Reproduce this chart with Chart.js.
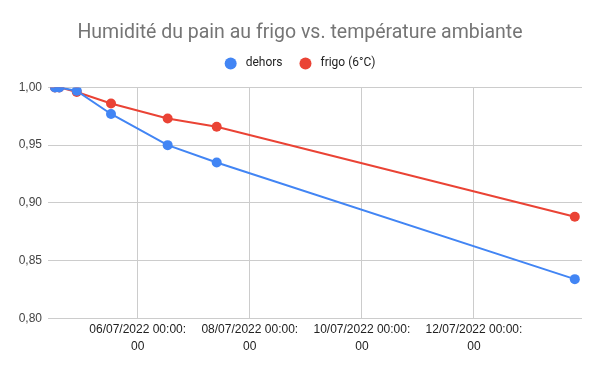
<!DOCTYPE html>
<html>
<head>
<meta charset="utf-8">
<script src="https://cdn.jsdelivr.net/npm/chart.js@4.4.0/dist/chart.umd.min.js"></script>
<style>
html,body{margin:0;padding:0;background:#fff;}
#wrap{width:600px;height:371px;position:relative;}
</style>
</head>
<body>
<div id="wrap"><canvas id="c" width="600" height="371"></canvas></div>
<script>
const titleText = "Humidité du pain au frigo vs. température ambiante";
const seriesNames = ["dehors", "frigo (6°C)"];
const times = ["2022-07-04T12:35", "2022-07-04T14:25", "2022-07-04T21:55", "2022-07-05T12:35", "2022-07-06T12:50", "2022-07-07T09:50", "2022-07-13T19:10"];
const dehors = [1.000, 1.000, 0.997, 0.977, 0.950, 0.935, 0.834];
const frigo = [1.000, 1.000, 0.996, 0.986, 0.973, 0.966, 0.888];
const xTickDates = ["2022-07-06T00:00", "2022-07-08T00:00", "2022-07-10T00:00", "2022-07-12T00:00"];
const xRange = ["2022-07-04T09:36", "2022-07-13T22:15"];
const yTicks = [0.80, 0.85, 0.90, 0.95, 1.00];

function toMs(s){
  const [d,t] = s.split("T");
  const [Y,M,D] = d.split("-").map(Number);
  const [h,m] = t.split(":").map(Number);
  return Date.UTC(Y, M-1, D, h, m);
}
function pad(n){return String(n).padStart(2,"0");}
function fmt(ms){
  const dt = new Date(ms);
  return [pad(dt.getUTCDate())+"/"+pad(dt.getUTCMonth()+1)+"/"+dt.getUTCFullYear()+" "+pad(dt.getUTCHours())+":"+pad(dt.getUTCMinutes())+":", pad(dt.getUTCSeconds())];
}
const xs = times.map(toMs);
const mk = (vals) => vals.map((v,i)=>({x:xs[i], y:v}));

const legendGap = {
  id:"legendGap",
  beforeInit(chart){
    const orig = chart.legend.fit;
    chart.legend.fit = function(){ orig.call(this); this.height += 8; };
  }
};

new Chart(document.getElementById("c"), {
  type: "line",
  data: {
    datasets: [
      {label: seriesNames[0], data: mk(dehors), borderColor:"#4285F4", backgroundColor:"#4285F4", borderWidth:2, pointRadius:5, pointBorderWidth:0, tension:0},
      {label: seriesNames[1], data: mk(frigo), borderColor:"#EA4335", backgroundColor:"#EA4335", borderWidth:2, pointRadius:5, pointBorderWidth:0, tension:0}
    ]
  },
  plugins:[legendGap],
  options: {
    responsive:false,
    animation:false,
    layout:{padding:{left:18, right:18, top:6, bottom:13}},
    plugins:{
      title:{display:true, text:titleText, color:"#757575", font:{family:"Roboto, 'Liberation Sans', Arial", size:19.5, weight:"normal"}, padding:{top:15, bottom:-4}},
      legend:{display:true, labels:{usePointStyle:true, pointStyle:"circle", boxWidth:12, boxHeight:8.5, color:"#222", font:{family:"Roboto, Arial", size:12}, padding:17,
        generateLabels:(chart)=>Chart.defaults.plugins.legend.labels.generateLabels(chart).map(l=>Object.assign(l,{text:" "+l.text}))}},
      tooltip:{enabled:false}
    },
    scales:{
      x:{
        type:"linear",
        min:toMs(xRange[0]), max:toMs(xRange[1]),
        afterBuildTicks:(ax)=>{ax.ticks = xTickDates.map(s=>({value:toMs(s)}));},
        ticks:{callback:(v)=>fmt(v), color:"#222", font:{family:"'Liberation Sans', Arial", size:12, lineHeight:1.4}, maxRotation:0, autoSkip:false, padding:3},
        grid:{color:"#cccccc", drawTicks:false},
        border:{display:false}
      },
      y:{
        min:0.80, max:1.00,
        afterBuildTicks:(ax)=>{ax.ticks = yTicks.map(v=>({value:v}));},
        afterFit:(ax)=>{ax.width = 30;},
        ticks:{callback:(v)=>v.toFixed(2).replace(".",","), color:"#444", font:{family:"'Liberation Sans', Arial", size:12}, padding:6},
        grid:{color:"#cccccc", drawTicks:false},
        border:{display:false}
      }
    }
  }
});
</script>
</body>
</html>
